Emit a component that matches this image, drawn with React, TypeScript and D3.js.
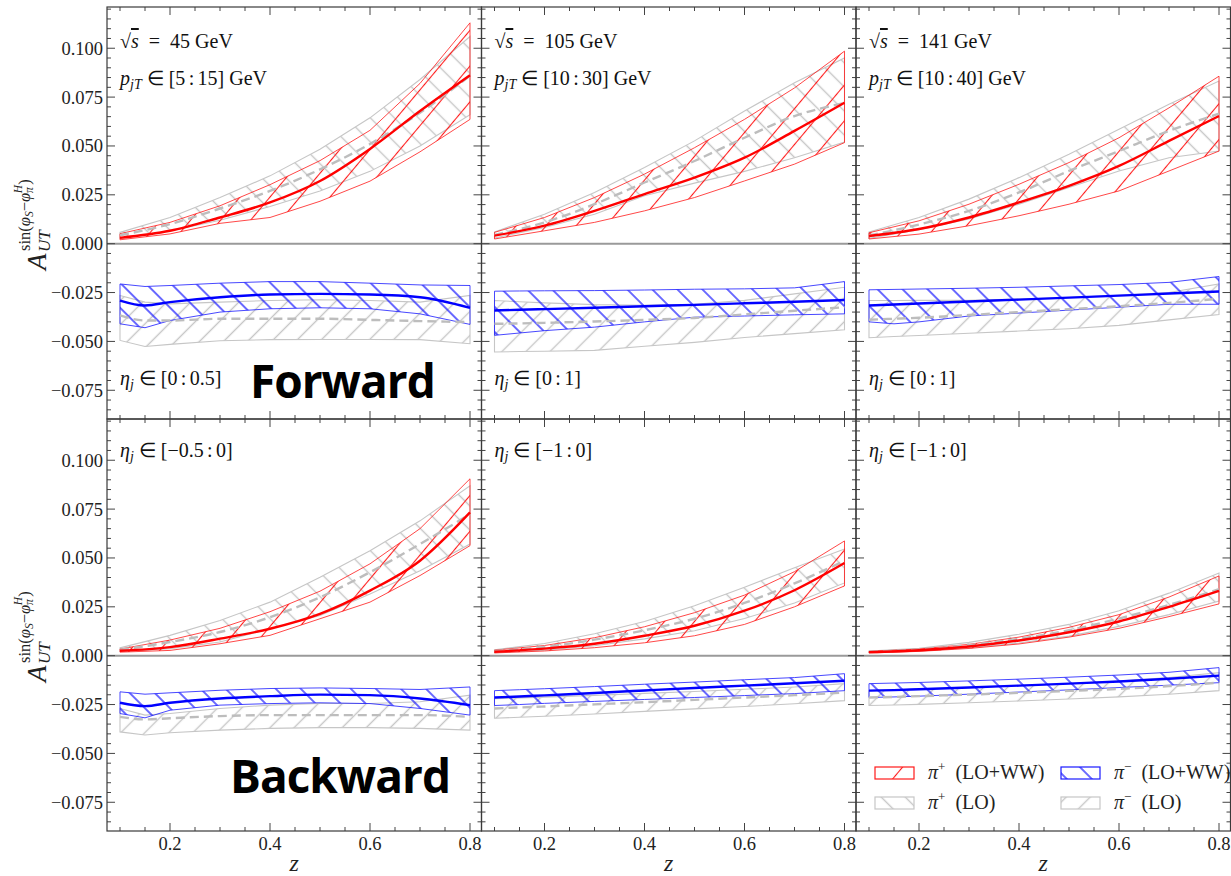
import React from "react";
import * as d3 from "d3";

// [lower, central, upper] per z point
type Band = [number, number, number][];

const zPlus = [0.1, 0.2, 0.3, 0.4, 0.5, 0.6, 0.7, 0.8];
const zMinus = [0.1, 0.15, 0.2, 0.3, 0.4, 0.5, 0.6, 0.7, 0.8];

// ---- Forward, sqrt(s)=45 GeV
const fwd45PipWW: Band = [
  [0.002, 0.003, 0.0051], [0.005, 0.0066, 0.0109], [0.0104, 0.0134, 0.0194], [0.0134, 0.0211, 0.0302],
  [0.0217, 0.0321, 0.0425], [0.032, 0.0485, 0.058], [0.047, 0.0679, 0.082], [0.0636, 0.0862, 0.113],
];
const fwd45PipLO: Band = [
  [0.0028, 0.0043, 0.0058], [0.0065, 0.01, 0.0134], [0.012, 0.018, 0.0236], [0.019, 0.027, 0.0347],
  [0.027, 0.038, 0.0483], [0.037, 0.051, 0.0644], [0.05, 0.067, 0.084], [0.066, 0.086, 0.106],
];
const fwd45PimWW: Band = [
  [-0.041, -0.0291, -0.0206], [-0.043, -0.0316, -0.0219], [-0.0393, -0.0299, -0.0214], [-0.035, -0.0274, -0.0202],
  [-0.0333, -0.026, -0.0194], [-0.0328, -0.0257, -0.0194], [-0.0333, -0.026, -0.0202], [-0.0359, -0.0274, -0.0211],
  [-0.0413, -0.0328, -0.0214],
];
const fwd45PimLO: Band = [
  [-0.0495, -0.0367, -0.0265], [-0.0526, -0.0393, -0.0299], [-0.0515, -0.0393, -0.0308], [-0.0497, -0.0384, -0.0299],
  [-0.0491, -0.0384, -0.0291], [-0.049, -0.0384, -0.0287], [-0.049, -0.039, -0.0291], [-0.0491, -0.0396, -0.0299],
  [-0.0512, -0.0401, -0.0265],
];

// ---- Forward, sqrt(s)=105 GeV
const fwd105PipWW: Band = [
  [0.0024, 0.0041, 0.0058], [0.0066, 0.0092, 0.0134], [0.0109, 0.0168, 0.0236], [0.0168, 0.0254, 0.0356],
  [0.0236, 0.0338, 0.0491], [0.0321, 0.044, 0.0636], [0.0407, 0.0577, 0.0797], [0.0517, 0.0721, 0.0985],
];
const fwd105PipLO: Band = [
  [0.0029, 0.0045, 0.006], [0.0083, 0.0109, 0.0151], [0.0151, 0.0202, 0.0262], [0.0245, 0.0313, 0.039],
  [0.031, 0.0423, 0.0526], [0.037, 0.0542, 0.0679], [0.044, 0.0653, 0.0823], [0.052, 0.072, 0.095],
];
const fwd105PimWW: Band = [
  [-0.0469, -0.0342, -0.0243], [-0.0457, -0.0338, -0.0242], [-0.0445, -0.0335, -0.0241], [-0.0427, -0.0328, -0.024],
  [-0.04, -0.032, -0.0237], [-0.0376, -0.0313, -0.0233], [-0.037, -0.0305, -0.0231], [-0.0364, -0.0297, -0.0226],
  [-0.0359, -0.0288, -0.0194],
];
const fwd105PimLO: Band = [
  [-0.0554, -0.041, -0.0291], [-0.0552, -0.0408, -0.0297], [-0.055, -0.0405, -0.0303], [-0.0546, -0.0398, -0.0312],
  [-0.0525, -0.039, -0.0315], [-0.0505, -0.038, -0.031], [-0.048, -0.0362, -0.029], [-0.046, -0.0343, -0.0257],
  [-0.044, -0.0325, -0.0223],
];

// ---- Forward, sqrt(s)=141 GeV
const fwd141PipWW: Band = [
  [0.0024, 0.0039, 0.0056], [0.0049, 0.0075, 0.0117], [0.0092, 0.0134, 0.0202], [0.0143, 0.0211, 0.0304],
  [0.0202, 0.0296, 0.0415], [0.027, 0.0398, 0.0542], [0.0372, 0.0526, 0.0695], [0.0474, 0.0653, 0.0857],
];
const fwd141PipLO: Band = [
  [0.0027, 0.0042, 0.006], [0.0071, 0.0098, 0.0134], [0.0126, 0.0168, 0.0228], [0.0202, 0.0262, 0.0338],
  [0.0287, 0.0372, 0.0458], [0.0372, 0.0474, 0.0585], [0.044, 0.0577, 0.0713], [0.0474, 0.0665, 0.0832],
];
const fwd141PimWW: Band = [
  [-0.04, -0.0316, -0.0236], [-0.041, -0.0311, -0.0234], [-0.04, -0.0306, -0.0232], [-0.037, -0.0296, -0.0228],
  [-0.0355, -0.0286, -0.0223], [-0.034, -0.0276, -0.0216], [-0.0325, -0.0266, -0.0209], [-0.031, -0.0255, -0.0198],
  [-0.031, -0.0245, -0.0168],
];
const fwd141PimLO: Band = [
  [-0.0481, -0.0389, -0.0291], [-0.0475, -0.0384, -0.0291], [-0.047, -0.0379, -0.029], [-0.0458, -0.0365, -0.029],
  [-0.0447, -0.035, -0.0283], [-0.0435, -0.0335, -0.0275], [-0.0418, -0.032, -0.0264], [-0.039, -0.0303, -0.025],
  [-0.0362, -0.0282, -0.0206],
];

// ---- Backward, sqrt(s)=45 GeV
const bwd45PipWW: Band = [
  [0.0018, 0.0025, 0.0034], [0.0027, 0.0044, 0.008], [0.0061, 0.0087, 0.014], [0.0104, 0.0138, 0.0225],
  [0.0189, 0.0214, 0.033], [0.0274, 0.0333, 0.047], [0.041, 0.0486, 0.065], [0.0563, 0.0733, 0.0905],
];
const bwd45PipLO: Band = [
  [0.0022, 0.003, 0.004], [0.0036, 0.007, 0.0104], [0.007, 0.0121, 0.018], [0.0138, 0.0197, 0.0274],
  [0.0206, 0.0299, 0.0401], [0.0316, 0.0427, 0.0537], [0.0435, 0.0571, 0.069], [0.0571, 0.0724, 0.0869],
];
const bwd45PimWW: Band = [
  [-0.0296, -0.0241, -0.0185], [-0.0318, -0.0258, -0.0197], [-0.0279, -0.0241, -0.019], [-0.0253, -0.0219, -0.0177],
  [-0.0245, -0.0207, -0.0168], [-0.0241, -0.0199, -0.0165], [-0.0245, -0.0202, -0.0168], [-0.027, -0.0219, -0.0173],
  [-0.0304, -0.0253, -0.016],
];
const bwd45PimLO: Band = [
  [-0.039, -0.0313, -0.027], [-0.0406, -0.0326, -0.0304], [-0.0394, -0.032, -0.0296], [-0.0381, -0.0309, -0.027],
  [-0.0372, -0.0304, -0.0253], [-0.0368, -0.0304, -0.0245], [-0.0368, -0.0304, -0.0245], [-0.0372, -0.0304, -0.0236],
  [-0.0381, -0.0313, -0.0202],
];

// ---- Backward, sqrt(s)=105 GeV
const bwd105PipWW: Band = [
  [0.0014, 0.002, 0.0028], [0.0024, 0.0036, 0.0052], [0.0041, 0.0061, 0.0092], [0.0066, 0.0102, 0.0148],
  [0.0102, 0.0153, 0.022], [0.016, 0.023, 0.031], [0.025, 0.0335, 0.043], [0.0357, 0.0474, 0.0587],
];
const bwd105PipLO: Band = [
  [0.0016, 0.0023, 0.003], [0.0028, 0.0045, 0.0062], [0.0051, 0.0082, 0.0112], [0.0086, 0.013, 0.0175],
  [0.0128, 0.0189, 0.0255], [0.019, 0.027, 0.035], [0.027, 0.037, 0.045], [0.0372, 0.0485, 0.0546],
];
const bwd105PimWW: Band = [
  [-0.0255, -0.0214, -0.0179], [-0.025, -0.0209, -0.0174], [-0.0244, -0.0203, -0.0169], [-0.0234, -0.0191, -0.0158],
  [-0.0224, -0.0178, -0.0146], [-0.0214, -0.0165, -0.0135], [-0.0204, -0.0153, -0.0123], [-0.0194, -0.0141, -0.0112],
  [-0.0179, -0.0128, -0.0092],
];
const bwd105PimLO: Band = [
  [-0.032, -0.027, -0.022], [-0.0315, -0.0265, -0.0216], [-0.031, -0.026, -0.0212], [-0.0298, -0.0249, -0.0203],
  [-0.0285, -0.0238, -0.0193], [-0.0272, -0.0226, -0.0183], [-0.026, -0.0214, -0.0172], [-0.0246, -0.0202, -0.016],
  [-0.023, -0.0189, -0.0143],
];

// ---- Backward, sqrt(s)=141 GeV
const bwd141PipWW: Band = [
  [0.0014, 0.0018, 0.0022], [0.0022, 0.0028, 0.0034], [0.0037, 0.0047, 0.0058], [0.006, 0.0078, 0.0095],
  [0.0095, 0.012, 0.0145], [0.014, 0.0175, 0.021], [0.02, 0.025, 0.03], [0.0265, 0.0332, 0.0408],
];
const bwd141PipLO: Band = [
  [0.0015, 0.002, 0.0024], [0.0024, 0.0031, 0.0038], [0.004, 0.0054, 0.0068], [0.0065, 0.0087, 0.011],
  [0.01, 0.013, 0.016], [0.015, 0.019, 0.023], [0.021, 0.026, 0.032], [0.028, 0.034, 0.0423],
];
const bwd141PimWW: Band = [
  [-0.0214, -0.0179, -0.0143], [-0.0211, -0.0176, -0.014], [-0.0207, -0.0172, -0.0137], [-0.0197, -0.0163, -0.0129],
  [-0.0186, -0.0153, -0.012], [-0.0175, -0.0143, -0.011], [-0.0163, -0.0132, -0.0099], [-0.0151, -0.0118, -0.0085],
  [-0.0138, -0.0102, -0.0061],
];
const bwd141PimLO: Band = [
  [-0.0255, -0.0214, -0.0179], [-0.0252, -0.0211, -0.0175], [-0.0249, -0.0207, -0.0172], [-0.0241, -0.0199, -0.0163],
  [-0.0232, -0.019, -0.0153], [-0.0222, -0.018, -0.0142], [-0.0211, -0.017, -0.013], [-0.0197, -0.0156, -0.0112],
  [-0.0179, -0.0138, -0.0087],
];

const energies = ["45", "105", "141"];
const ptRanges = ["[5\u2006:\u200615]", "[10\u2006:\u200630]", "[10\u2006:\u200640]"];
const etaForward = ["[0\u2006:\u20060.5]", "[0\u2006:\u20061]", "[0\u2006:\u20061]"];
const etaBackward = ["[\u22120.5\u2006:\u20060]", "[\u22121\u2006:\u20060]", "[\u22121\u2006:\u20060]"];

const yMajorTicks = [-0.075, -0.05, -0.025, 0, 0.025, 0.05, 0.075, 0.1];
const yTickLabels = ["\u22120.075", "\u22120.050", "\u22120.025", "0.000", "0.025", "0.050", "0.075", "0.100"];
const xMajorTicks = [0.2, 0.4, 0.6, 0.8];
const xTickLabels = ["0.2", "0.4", "0.6", "0.8"];

const panels = [
  { row: 0, col: 0, pipWW: fwd45PipWW, pipLO: fwd45PipLO, pimWW: fwd45PimWW, pimLO: fwd45PimLO },
  { row: 0, col: 1, pipWW: fwd105PipWW, pipLO: fwd105PipLO, pimWW: fwd105PimWW, pimLO: fwd105PimLO },
  { row: 0, col: 2, pipWW: fwd141PipWW, pipLO: fwd141PipLO, pimWW: fwd141PimWW, pimLO: fwd141PimLO },
  { row: 1, col: 0, pipWW: bwd45PipWW, pipLO: bwd45PipLO, pimWW: bwd45PimWW, pimLO: bwd45PimLO },
  { row: 1, col: 1, pipWW: bwd105PipWW, pipLO: bwd105PipLO, pimWW: bwd105PimWW, pimLO: bwd105PimLO },
  { row: 1, col: 2, pipWW: bwd141PipWW, pipLO: bwd141PipLO, pimWW: bwd141PimWW, pimLO: bwd141PimLO },
];

// layout
const W = 1231, H = 876;
const colLeft = [107, 481.5, 856];
const panelW = 374.5;
const rowTop = [7, 419];
const panelH = 412;
const zDomain: [number, number] = [0.074, 0.823];
const aDomain: [number, number] = [-0.0897, 0.1211];

const SERIF = "Liberation Serif, Times New Roman, serif";
const RED = "#ff1a1a";
const BLUE = "#1a1aff";
const GRAY = "#c6c6c6";
const FRAME = "#3a3a3a";

const yMinor = d3.range(-0.085, 0.1201, 0.005);
const xMinor = d3.range(0.1, 0.8001, 0.05);

const Hatch = ({ id, color, angle, space, width }: { id: string; color: string; angle: number; space: number; width: number }) => (
  <pattern id={id} patternUnits="userSpaceOnUse" width={space} height={space} patternTransform={`rotate(${angle})`}>
    <line x1={space / 2} y1={-1} x2={space / 2} y2={space + 1} stroke={color} strokeWidth={width} />
  </pattern>
);

const Panel = ({ p }: { p: (typeof panels)[number] }) => {
  const x = d3.scaleLinear().domain(zDomain).range([colLeft[p.col], colLeft[p.col] + panelW]);
  const y = d3.scaleLinear().domain(aDomain).range([rowTop[p.row] + panelH, rowTop[p.row]]);

  const band = (zs: number[]) =>
    d3.area<[number, number, number]>()
      .x((_, i) => x(zs[i]))
      .y0(d => y(d[0]))
      .y1(d => y(d[2]))
      .curve(d3.curveLinear);
  const mid = (zs: number[]) =>
    d3.line<[number, number, number]>()
      .x((_, i) => x(zs[i]))
      .y(d => y(d[1]))
      .curve(d3.curveMonotoneX);

  const x0 = colLeft[p.col], x1 = x0 + panelW;
  const y0 = rowTop[p.row], y1 = y0 + panelH;

  return (
    <g>
      <line x1={x0} x2={x1} y1={y(0)} y2={y(0)} stroke="#9a9a9a" strokeWidth={2} />
      <path d={band(zPlus)(p.pipLO) || ""} fill="url(#hGrayB)" stroke={GRAY} strokeWidth={1.1} />
      <path d={band(zMinus)(p.pimLO) || ""} fill="url(#hGrayF)" stroke={GRAY} strokeWidth={1.1} />
      <path d={band(zPlus)(p.pipWW) || ""} fill="url(#hRed)" stroke={RED} strokeOpacity={0.8} strokeWidth={1} />
      <path d={band(zMinus)(p.pimWW) || ""} fill="url(#hBlue)" stroke={BLUE} strokeOpacity={0.8} strokeWidth={1} />
      <path d={mid(zPlus)(p.pipLO) || ""} fill="none" stroke="#bdbdbd" strokeWidth={2.4} strokeDasharray="9 5" />
      <path d={mid(zMinus)(p.pimLO) || ""} fill="none" stroke="#bdbdbd" strokeWidth={2.4} strokeDasharray="9 5" />
      <path d={mid(zPlus)(p.pipWW) || ""} fill="none" stroke="#ff0000" strokeWidth={2.4} />
      <path d={mid(zMinus)(p.pimWW) || ""} fill="none" stroke="#0000ff" strokeWidth={2.4} />

      {/* ticks */}
      <g stroke="#444" strokeWidth={1}>
        {yMinor.map((v, i) => {
          const major = yMajorTicks.some(m => Math.abs(m - v) < 1e-6);
          const l = major ? 8 : 4;
          return (
            <g key={"y" + i}>
              <line x1={x0} x2={x0 + l} y1={y(v)} y2={y(v)} />
              <line x1={x1} x2={x1 - l} y1={y(v)} y2={y(v)} />
            </g>
          );
        })}
        {xMinor.map((v, i) => {
          const major = xMajorTicks.some(m => Math.abs(m - v) < 1e-6);
          const l = major ? 8 : 4;
          return (
            <g key={"x" + i}>
              <line x1={x(v)} x2={x(v)} y1={y0} y2={y0 + l} />
              <line x1={x(v)} x2={x(v)} y1={y1} y2={y1 - l} />
            </g>
          );
        })}
      </g>
      <rect x={x0} y={y0} width={panelW} height={panelH} fill="none" stroke={FRAME} strokeWidth={1.2} />

      {p.col === 0 &&
        yMajorTicks.map((v, i) => (
          <text key={"yl" + i} x={x0 - 4} y={y(v)} dy="0.35em" textAnchor="end" fontSize={18.5} style={{ fontFamily: SERIF }} fill="#222">
            {yTickLabels[i]}
          </text>
        ))}
      {p.row === 1 &&
        xMajorTicks.map((v, i) => (
          <text key={"xl" + i} x={x(v)} y={850} textAnchor="middle" fontSize={18.5} style={{ fontFamily: SERIF }} fill="#222">
            {xTickLabels[i]}
          </text>
        ))}
    </g>
  );
};

const Eta = ({ x, y, range }: { x: number; y: number; range: string }) => (
  <text x={x} y={y} fontSize={20} fill="#111" style={{ whiteSpace: "pre", fontFamily: SERIF }}>
    <tspan fontStyle="italic">η</tspan>
    <tspan fontStyle="italic" fontSize={14} dy={4}>j</tspan>
    <tspan dy={-4}>{" \u2208 " + range}</tspan>
  </text>
);

const YLabel = ({ cy }: { cy: number }) => (
  <g transform={`translate(46,${cy}) rotate(-90)`} fill="#222" style={{ whiteSpace: "pre", fontFamily: SERIF }}>
    <text x={-57} y={0} fontSize={27} fontStyle="italic">A</text>
    <text x={-39} y={4} fontSize={17} fontStyle="italic">UT</text>
    <text x={-38} y={-16} fontSize={16.5}>
      <tspan>sin(</tspan>
      <tspan fontStyle="italic">φ</tspan>
      <tspan fontStyle="italic" fontSize={11.5} dy={3}>S</tspan>
      <tspan dy={-3}>{"\u2212"}</tspan>
      <tspan fontStyle="italic">φ</tspan>
      <tspan fontStyle="italic" fontSize={11.5} dy={3}>π</tspan>
      <tspan fontStyle="italic" fontSize={11.5} dx={-6} dy={-11}>H</tspan>
      <tspan dy={8}>)</tspan>
    </text>
  </g>
);

const legendItems = [
  { label: "(LO+WW)", sign: "+", fill: "url(#hRed)", stroke: RED, lx: 875, ly: 767 },
  { label: "(LO+WW)", sign: "\u2212", fill: "url(#hBlue)", stroke: BLUE, lx: 1061, ly: 767 },
  { label: "(LO)", sign: "+", fill: "url(#hGrayB)", stroke: GRAY, lx: 875, ly: 797 },
  { label: "(LO)", sign: "\u2212", fill: "url(#hGrayF)", stroke: GRAY, lx: 1061, ly: 797 },
];

export default function App() {
  return (
    <div style={{ position: "absolute", left: 0, top: 0 }}>
      <svg width={W} height={H} viewBox={`0 0 ${W} ${H}`} style={{ display: "block", background: "#fff" }}>
        <defs>
          <Hatch id="hRed" color={RED} angle={40} space={23} width={1.1} />
          <Hatch id="hBlue" color={BLUE} angle={-45} space={17.7} width={1.3} />
          <Hatch id="hGrayB" color={GRAY} angle={-45} space={17} width={1.4} />
          <Hatch id="hGrayF" color={GRAY} angle={45} space={17} width={1.4} />
        </defs>
        <rect width={W} height={H} fill="#fff" />

        {panels.map((p, i) => <Panel key={i} p={p} />)}

        {/* panel annotations */}
        {energies.map((e, c) => (
          <g key={"ann" + c} fill="#111" style={{ whiteSpace: "pre", fontFamily: SERIF }}>
            <text x={colLeft[c] + 13} y={48} fontSize={20}>
              <tspan>√</tspan>
              <tspan fontStyle="italic" style={{ textDecoration: "overline" }}>s</tspan>
              <tspan>{"\u2002=\u2002" + e + " GeV"}</tspan>
            </text>
            <text x={colLeft[c] + 13} y={85} fontSize={20}>
              <tspan fontStyle="italic">p</tspan>
              <tspan fontStyle="italic" fontSize={14} dy={4}>jT</tspan>
              <tspan dy={-4}>{" \u2208 " + ptRanges[c] + " GeV"}</tspan>
            </text>
            <Eta x={colLeft[c] + 13} y={385} range={etaForward[c]} />
            <Eta x={colLeft[c] + 13} y={457} range={etaBackward[c]} />
          </g>
        ))}

        <text x={250} y={398} fontFamily="'Open Sans', 'Noto Sans', sans-serif" fontWeight={700} fontSize={46} letterSpacing={-1} fill="#000">Forward</text>
        <text x={230} y={793} fontFamily="'Open Sans', 'Noto Sans', sans-serif" fontWeight={700} fontSize={46} letterSpacing={-1} fill="#000">Backward</text>

        <YLabel cy={rowTop[0] + panelH / 2} />
        <YLabel cy={rowTop[1] + panelH / 2} />

        {colLeft.map((c, i) => (
          <text key={"z" + i} x={c + panelW / 2} y={871} textAnchor="middle" fontSize={24} fontStyle="italic" style={{ fontFamily: SERIF }} fill="#222">z</text>
        ))}

        {/* legend */}
        {legendItems.map((it, i) => (
          <g key={"lg" + i}>
            <rect x={it.lx} y={it.ly} width={39} height={12} fill={it.fill} stroke={it.stroke} strokeWidth={1.2} />
            <text x={it.lx + 53} y={it.ly + 12} fontSize={20} fill="#222" style={{ whiteSpace: "pre", fontFamily: SERIF }}>
              <tspan fontStyle="italic">π</tspan>
              <tspan fontSize={13} dy={-8}>{it.sign}</tspan>
              <tspan dy={8}>{"\u2002" + it.label}</tspan>
            </text>
          </g>
        ))}
      </svg>
    </div>
  );
}
